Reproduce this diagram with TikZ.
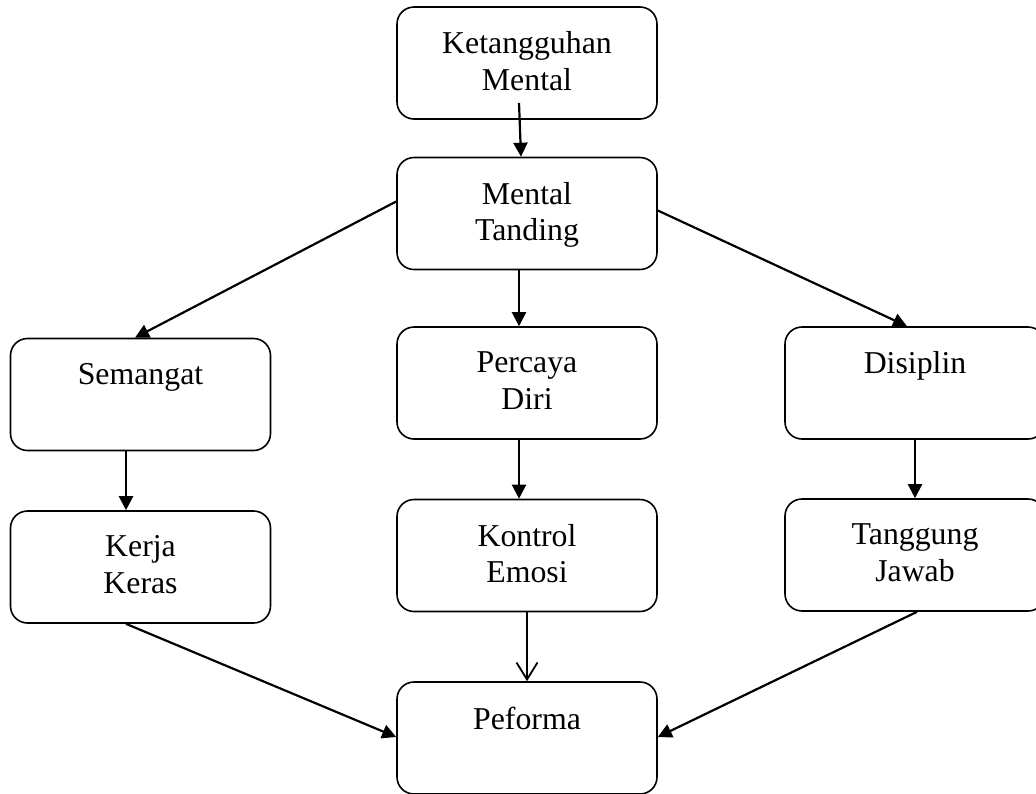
\documentclass[tikz,border=0pt]{standalone}
\usepackage{fontspec}
\setmainfont{Liberation Serif}
\usepackage{tikz}
\usetikzlibrary{arrows.meta, positioning}

\tikzset{
	box/.style = {draw = black, line width = 0.8pt, rounded corners = 8.5pt, minimum width = 130pt, minimum height = 56pt, inner sep = 0pt},
	txt/.style = {anchor = north, inner sep = 0pt, yshift = -12.5pt, align = center, font = \fontsize{15.9pt}{18.4pt}\selectfont},
	arr/.style = {line width = 1.1pt, -{Triangle[length = 7pt, width = 7pt]}},
	opn/.style = {line width = 0.9pt, -{Straight Barb[length = 8.5pt, width = 10.5pt]}}
}

\begin{document}
\begin{tikzpicture}[x = 0.5pt, y = -0.5pt]
			\clip (0, 0) rectangle (1036, 793);
			\useasboundingbox (0, 0) rectangle (1036, 793);
			
			\node[box, label = {[txt]north:Ketangguhan\\Mental}] (ment) at (527, 63) {};
			\node[box, label = {[txt]north:Mental\\Tanding}] (tand) at (527, 213.5) {};
			
			\node[box, label = {[txt]north:Semangat}] (sem) at (140.5, 394.5) {};
			\node[box, label = {[txt]north:Percaya\\Diri}] (perc) at (527, 383) {};
			\node[box, label = {[txt]north:Disiplin}] (disc) at (915, 383) {};
			
			\node[box, label = {[txt]north:Kerja\\Keras}] (kerj) at (140.5, 567) {};
			\node[box, label = {[txt]north:Kontrol\\Emosi}] (kont) at (527, 555.5) {};
			\node[box, label = {[txt]north:Tanggung\\Jawab}] (tang) at (915, 555) {};
			
			\node[box, label = {[txt]north:Peforma}] (pefo) at (527, 738) {};
			
			\draw[arr] ([shift = {(-4pt, 8.5pt)}]ment.south) -- ([xshift = -3pt]tand.north);
			\draw[arr] ([yshift = 6pt]tand.west) -- ([xshift = -2.75pt]sem.north);
			\draw[arr] ([xshift = -4pt]tand.south) -- ([xshift = -4pt]perc.north);
			\draw[arr] ([yshift = 1.5pt]tand.east) -- ([xshift = -4pt]disc.north);
			
			\draw[arr] ([xshift = -7.25pt]sem.south) -- ([xshift = -7.25pt]kerj.north);
			\draw[arr] ([xshift = -4pt]perc.south) -- ([xshift = -4pt]kont.north);
			\draw[arr] (disc.south) -- (tang.north);
			
			\draw[arr] ([xshift = -7.25pt]kerj.south) -- ([yshift = 0.5pt]pefo.west);
			\draw[opn] (kont.south) -- (pefo.north);
			\draw[arr] ([xshift = 1pt]tang.south) -- ([yshift = 0.5pt]pefo.east);
			\end{tikzpicture}
\end{document}
